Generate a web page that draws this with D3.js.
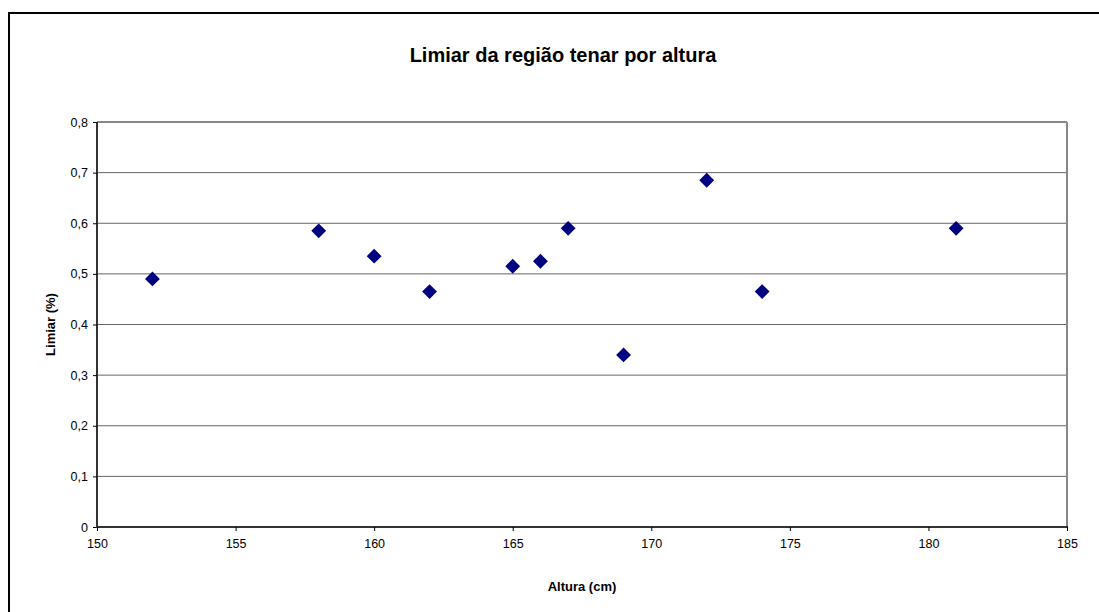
<!DOCTYPE html>
<html>
<head>
<meta charset="utf-8">
<script src="https://cdn.jsdelivr.net/npm/d3@7"></script>
<style>
  body { margin: 0; background: #fff; }
  svg { display: block; font-family: "Liberation Sans", Arial, sans-serif; }
</style>
</head>
<body>
<div id="chart"></div>
<script>
// data
const altura = [152, 158, 160, 162, 165, 166, 167, 169, 172, 174, 181];
const limiar = [0.49, 0.585, 0.535, 0.465, 0.515, 0.525, 0.59, 0.34, 0.685, 0.465, 0.59];
const xTicks = [150, 155, 160, 165, 170, 175, 180, 185];
const yTicks = [0, 0.1, 0.2, 0.3, 0.4, 0.5, 0.6, 0.7, 0.8];

const W = 1099, H = 612;
const margin = {top: 122, right: 32, bottom: 85, left: 97};
const width = W - margin.left - margin.right;
const height = H - margin.top - margin.bottom;

const svg = d3.select("#chart").append("svg")
    .attr("width", W)
    .attr("height", H);

// outer frame (runs off the right / bottom edge)
svg.append("rect")
    .attr("x", 9).attr("y", 13)
    .attr("width", W).attr("height", H)
    .attr("fill", "none")
    .attr("stroke", "#000")
    .attr("stroke-width", 2);

svg.append("text")
    .attr("x", 563)
    .attr("y", 62)
    .attr("text-anchor", "middle")
    .style("font-size", "20px")
    .style("font-weight", "bold")
    .text("Limiar da região tenar por altura");

const g = svg.append("g")
    .attr("transform", `translate(${margin.left},${margin.top})`);

const x = d3.scaleLinear().domain([150, 185]).range([0, width]);
const y = d3.scaleLinear().domain([0, 0.8]).range([height, 0]);

// grid lines
g.selectAll(".grid")
    .data(yTicks.filter(d => d > 0))
    .enter().append("line")
    .attr("x1", 0).attr("x2", width)
    .attr("y1", d => y(d)).attr("y2", d => y(d))
    .attr("stroke", d => d === 0.8 ? "#888" : "#666")
    .attr("stroke-width", d => d === 0.8 ? 2 : 1);

// right border of plot area
g.append("line")
    .attr("x1", width).attr("x2", width)
    .attr("y1", 0).attr("y2", height)
    .attr("stroke", "#888")
    .attr("stroke-width", 2);

const fmt = d => d3.format(".1f")(d).replace(".", ",").replace(/^0,0$/, "0");

const yAxis = g.append("g")
    .call(d3.axisLeft(y).tickValues(yTicks).tickSize(4).tickPadding(5).tickFormat(fmt));
const xAxis = g.append("g")
    .attr("transform", `translate(0,${height})`)
    .call(d3.axisBottom(x).tickValues(xTicks).tickSize(4).tickPadding(8).tickFormat(d3.format("d")));

[xAxis, yAxis].forEach(a => {
    a.select(".domain").attr("stroke", "#333").attr("stroke-width", 2);
    a.selectAll(".tick line").attr("stroke", "#000");
    a.selectAll(".tick text")
        .attr("fill", "#000")
        .style("font-size", "12.5px")
        .style("font-family", "'Liberation Sans', Arial, sans-serif");
});
yAxis.select(".domain").attr("d", `M0,${height + 1}V0`);
xAxis.select(".domain").attr("d", `M-1,0H${width + 1}`);

g.append("text")
    .attr("x", width / 2)
    .attr("y", height + 64)
    .attr("text-anchor", "middle")
    .style("font-size", "13px")
    .style("font-weight", "bold")
    .text("Altura (cm)");

g.append("text")
    .attr("transform", "rotate(-90)")
    .attr("x", -height / 2)
    .attr("y", -42)
    .attr("text-anchor", "middle")
    .style("font-size", "13px")
    .style("font-weight", "bold")
    .text("Limiar (%)");

// diamond markers
const diamond = d3.symbol().type(d3.symbolSquare).size(110);
g.selectAll(".pt")
    .data(altura.map((a, i) => ({a, v: limiar[i]})))
    .enter().append("path")
    .attr("d", diamond)
    .attr("transform", d => `translate(${x(d.a)},${y(d.v)}) rotate(45)`)
    .attr("fill", "#000080");
</script>
</body>
</html>
